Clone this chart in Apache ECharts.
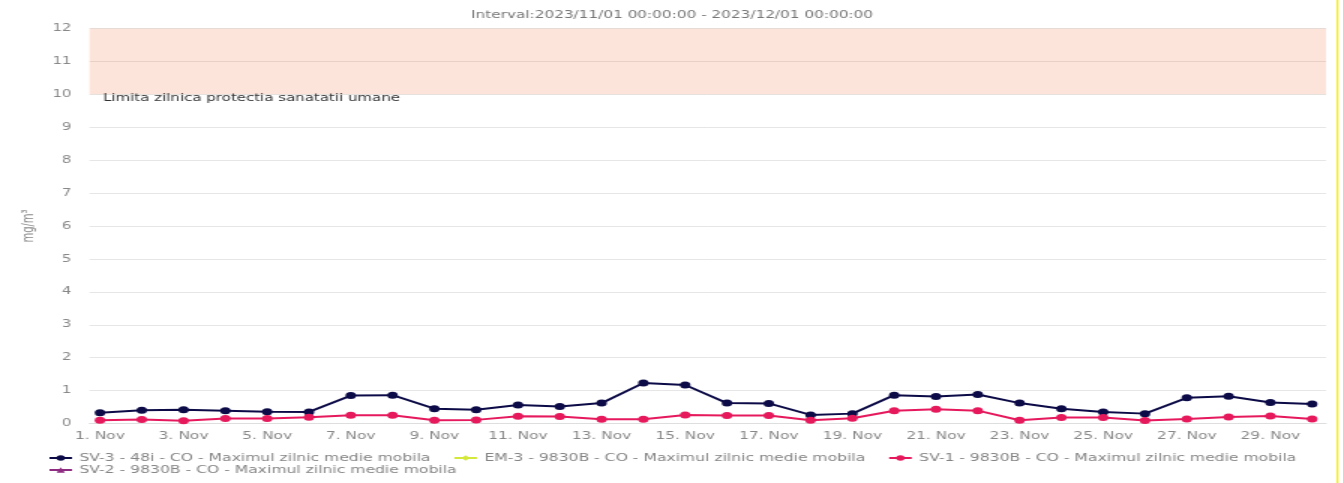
<!DOCTYPE html>
<html>
<head>
<meta charset="utf-8">
<script src="https://cdn.jsdelivr.net/npm/echarts@6/dist/echarts.min.js"></script>
<style>
  html, body { margin: 0; padding: 0; background: #fff; overflow: hidden; width: 1343px; height: 483px; }
  #chart { width: 896px; height: 483px; transform: scaleX(1.5); transform-origin: 0 0; }
</style>
</head>
<body>
<div id="chart"></div>
<script>
// ---- data ----
const days = [1,2,3,4,5,6,7,8,9,10,11,12,13,14,15,16,17,18,19,20,21,22,23,24,25,26,27,28,29,30];
const tickDays = [1,3,5,7,9,11,13,15,17,19,21,23,25,27,29];
const tickLabels = ['1. Nov','3. Nov','5. Nov','7. Nov','9. Nov','11. Nov','13. Nov','15. Nov','17. Nov','19. Nov','21. Nov','23. Nov','25. Nov','27. Nov','29. Nov'];
const sv3Values = [0.33,0.40,0.42,0.39,0.36,0.35,0.85,0.86,0.45,0.42,0.56,0.52,0.62,1.23,1.17,0.62,0.61,0.26,0.30,0.86,0.82,0.88,0.62,0.45,0.35,0.30,0.78,0.83,0.64,0.59];
const em3Values = [];
const sv1Values = [0.10,0.12,0.08,0.15,0.15,0.19,0.25,0.25,0.10,0.11,0.22,0.21,0.13,0.13,0.26,0.24,0.24,0.10,0.16,0.39,0.43,0.39,0.10,0.18,0.18,0.09,0.14,0.20,0.23,0.14];
const sv2Values = [];
const seriesNames = [
  'SV-3 - 48i - CO - Maximul zilnic medie mobila',
  'EM-3 - 9830B - CO - Maximul zilnic medie mobila',
  'SV-1 - 9830B - CO - Maximul zilnic medie mobila',
  'SV-2 - 9830B - CO - Maximul zilnic medie mobila'
];
const limitBand = [10, 12];
const limitLabel = 'Limita zilnica protectia sanatatii umane';
const titleText = 'Interval:2023/11/01 00:00:00 - 2023/12/01 00:00:00';
const yTitle = 'mg/m³';

const FONT = 'DejaVu Sans';
const pairs = vals => vals.map((v, i) => [days[i], v]);

const chart = echarts.init(document.getElementById('chart'), null, { renderer: 'canvas' });

function lineSeries(name, vals, color, symbol) {
  return {
    name: name,
    type: 'line',
    data: pairs(vals),
    symbol: symbol,
    symbolSize: 7,
    showSymbol: true,
    lineStyle: { color: color, width: 2 },
    itemStyle: { color: color },
    emphasis: { disabled: true },
    animation: false
  };
}

const s1 = lineSeries(seriesNames[0], sv3Values, '#0c0b47', 'circle');
s1.markArea = {
  silent: true,
  itemStyle: { color: 'rgba(246,120,75,0.2)' },
  label: {
    show: true,
    position: [9, 65],
    color: '#333',
    fontFamily: FONT,
    fontSize: 10
  },
  data: [[{ name: limitLabel, yAxis: limitBand[0] }, { yAxis: limitBand[1] }]]
};

const legendCommon = {
  left: 27,
  orient: 'horizontal',
  itemWidth: 15,
  itemHeight: 7,
  itemGap: 15,
  textStyle: { color: '#858585', fontFamily: FONT, fontSize: 10.4 },
  selectedMode: false
};

chart.setOption({
  backgroundColor: '#fff',
  animation: false,
  title: {
    text: titleText,
    left: 'center',
    top: 10,
    padding: 0,
    textStyle: { color: '#777', fontFamily: FONT, fontSize: 10.2, fontWeight: 'normal' }
  },
  legend: [
    Object.assign({}, legendCommon, { top: 448, data: [seriesNames[0], seriesNames[1], seriesNames[2]] }),
    Object.assign({}, legendCommon, { top: 460, data: [seriesNames[3]] })
  ],
  grid: { left: 59.7, right: 12, top: 28.5, bottom: 59.5, containLabel: false },
  xAxis: {
    type: 'value',
    min: 0.75,
    max: 30.33,
    splitLine: { show: false },
    axisLine: { show: true, lineStyle: { color: '#dedede', width: 1 } },
    axisTick: { show: false },
    axisLabel: {
      customValues: tickDays,
      margin: 8,
      color: '#888',
      fontFamily: FONT,
      fontSize: 10.3,
      formatter: v => {
        const i = tickDays.indexOf(Math.round(v));
        return i >= 0 ? tickLabels[i] : '';
      }
    }
  },
  yAxis: {
    type: 'value',
    min: 0,
    max: 12,
    interval: 1,
    name: yTitle,
    nameLocation: 'middle',
    nameGap: 33,
    nameTextStyle: { color: '#888', fontFamily: FONT, fontSize: 10 },
    axisLine: { show: false },
    axisTick: { show: false },
    axisLabel: { margin: 12, color: '#888', fontFamily: FONT, fontSize: 10 },
    splitLine: { lineStyle: { color: '#e6e6e6', width: 1 } }
  },
  series: [
    s1,
    lineSeries(seriesNames[1], em3Values, '#d4e83a', 'diamond'),
    lineSeries(seriesNames[2], sv1Values, '#e6195d', 'circle'),
    lineSeries(seriesNames[3], sv2Values, '#8e2c82', 'triangle')
  ],
  graphic: [{
    type: 'rect',
    silent: true,
    shape: { x: 891, y: 0, width: 1.3, height: 483 },
    style: { fill: '#f5ef1a' },
    z: 100
  }]
});
</script>
</body>
</html>
